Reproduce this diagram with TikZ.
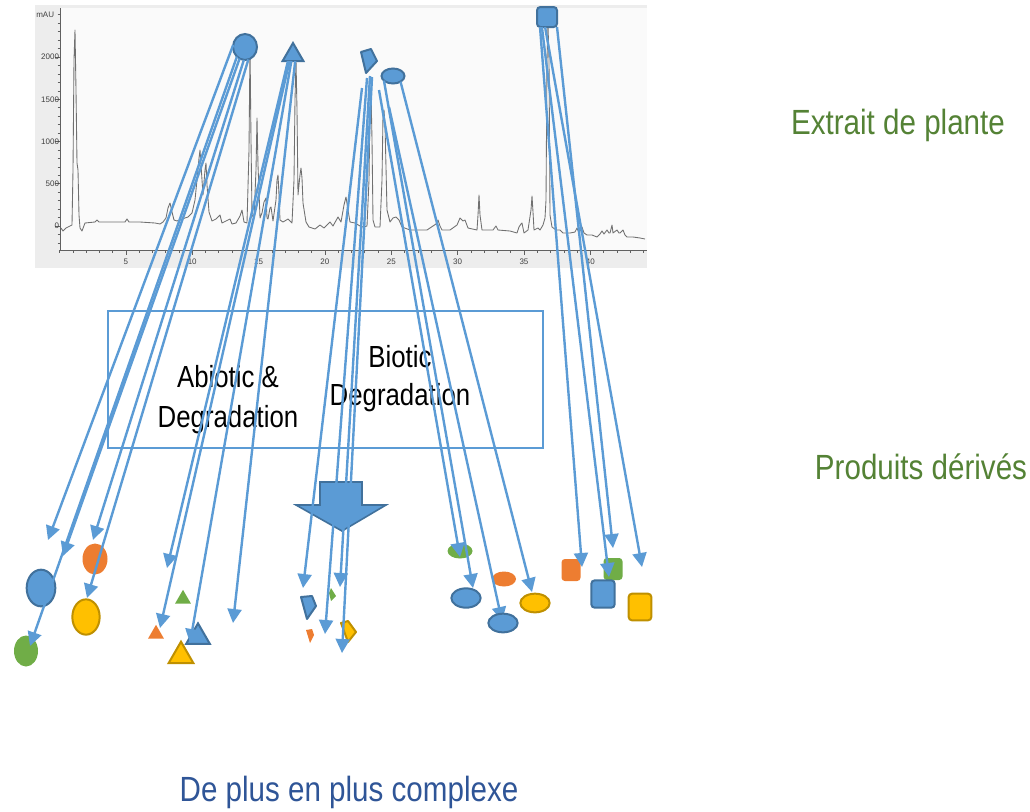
\documentclass[tikz,border=0pt]{standalone}
\usepackage{fontspec}
\setmainfont{Liberation Sans}
\usetikzlibrary{arrows.meta,shapes.geometric}
\definecolor{bl}{HTML}{5B9BD5}
\definecolor{bld}{HTML}{41719C}
\definecolor{og}{HTML}{ED7D31}
\definecolor{gn}{HTML}{70AD47}
\definecolor{yl}{HTML}{FFC000}
\definecolor{yld}{HTML}{BF9000}
\definecolor{txtg}{HTML}{548235}
\definecolor{txtb}{HTML}{2F5597}
\definecolor{axg}{HTML}{606060}
\definecolor{trg}{HTML}{707070}
\begin{document}
\begin{tikzpicture}[x=0.75pt,y=-0.75pt,
  arr/.style={draw=bl, line width=1.8pt, -{Triangle[length=10.5pt,width=10.5pt]}},
  bshape/.style={fill=bl, draw=bld, line width=1.5pt, inner sep=0pt, outer sep=0pt},
  yshape/.style={fill=yl, draw=yld, line width=1.5pt, inner sep=0pt, outer sep=0pt},
  oshape/.style={fill=og, inner sep=0pt, outer sep=0pt},
  gshape/.style={fill=gn, inner sep=0pt, outer sep=0pt},
  tri/.style={regular polygon, regular polygon sides=3, minimum size=#1},
  sq/.style={rectangle, rounded corners=2.5pt},
  bigtxt/.style={font=\fontsize{26.25}{30}\selectfont, inner sep=0pt, anchor=base},
  boxtxt/.style={font=\fontsize{22.9}{27}\selectfont, inner sep=0pt, anchor=base, text=black},
  axlab/.style={font=\fontsize{6}{7}\selectfont, text=black!75, inner sep=0.5pt},
  trace/.style={draw=trg, line width=0.65pt, line join=round}
]
\useasboundingbox (0,0) rectangle (1030,811);

% ---------- chromatogram ----------
\fill[black!7] (35,5) rectangle (647,268);
\fill[white!98!black] (60,8) rectangle (647,250);
\draw[axg, line width=0.6pt] (60,8) -- (60,250) -- (647,250);
\foreach \v in {-200,-100,...,2500}
  \draw[axg, line width=0.4pt] (57.5,{226-0.0845*\v}) -- (60,{226-0.0845*\v});
\foreach \v in {0,500,...,2000}
  \draw[axg, line width=0.5pt] (55,{226-0.0845*\v}) -- (60,{226-0.0845*\v})
    node[axlab, anchor=east] (yl\v) {\v};
\node[axlab, anchor=east] (mau) at (55,15) {mAU};
\foreach \t in {0,...,44}
  \draw[axg, line width=0.4pt] ({59.5+13.27*\t},250) -- ({59.5+13.27*\t},252.5);
\foreach \t in {5,10,...,40}
  \draw[axg, line width=0.5pt] ({59.5+13.27*\t},250) -- ({59.5+13.27*\t},255)
    node[axlab, anchor=north] (xl\t) at ({59.5+13.27*\t},258) {\t};
\draw[trace] (61,228) -- (63,231) -- (66,228) -- (70,226) -- (72,225) -- (73,170) -- (74,60) -- (75,30) -- (76,90) -- (77,163) -- (78,170) -- (79,215) -- (80,228) -- (82,231) -- (85,223) -- (95,222) -- (97,220) -- (99,222) -- (110,222) -- (125,222) -- (127,219) -- (129,222) -- (140,222) -- (155,223) -- (160,224) -- (163,222) -- (166,218) -- (168,208) -- (170,203) -- (172,212) -- (174,220) -- (177,221) -- (182,219) -- (188,217) -- (192,213) -- (195,200) -- (197,180) -- (199,158) -- (200,150) -- (201,165) -- (203,195) -- (205,170) -- (206,163) -- (207,185) -- (209,212) -- (212,221) -- (216,219) -- (220,215) -- (222,223) -- (226,221) -- (230,219) -- (232,224) -- (236,223) -- (240,216) -- (242,210) -- (244,222) -- (247,223) -- (249,150) -- (250,45) -- (251,140) -- (252,215) -- (254,218) -- (256,170) -- (257,118) -- (258,165) -- (260,218) -- (262,213) -- (264,202) -- (266,198) -- (267,218) -- (268,219) -- (270,208) -- (271,207) -- (273,221) -- (276,200) -- (277,180) -- (278,175) -- (279,195) -- (280,220) -- (283,222) -- (288,219) -- (292,223) -- (294,180) -- (295,100) -- (296,60) -- (297,110) -- (298,195) -- (300,175) -- (301,168) -- (302,178) -- (303,203) -- (306,222) -- (309,227) -- (315,229) -- (320,225) -- (324,228) -- (330,222) -- (333,226) -- (338,217) -- (341,222) -- (344,205) -- (346,197) -- (348,210) -- (350,222) -- (355,223) -- (360,226) -- (363,227) -- (367,226) -- (369,180) -- (370,110) -- (371,90) -- (372,140) -- (373,220) -- (375,227) -- (380,227) -- (382,180) -- (383,115) -- (384,110) -- (385,125) -- (387,210) -- (390,222) -- (393,218) -- (396,217) -- (399,220) -- (402,227) -- (410,230) -- (420,230) -- (427,230) -- (436,224) -- (438,220) -- (440,226) -- (442,230) -- (450,230) -- (457,225) -- (460,218) -- (463,221) -- (465,220) -- (468,228) -- (477,230) -- (478,215) -- (479,195) -- (480,215) -- (482,230) -- (493,230) -- (496,226) -- (498,230) -- (510,231) -- (517,233) -- (519,227) -- (521,224) -- (522,223) -- (524,233) -- (528,230) -- (531,210) -- (532,196) -- (533,212) -- (534,230) -- (538,228) -- (540,230) -- (543,225) -- (545,218) -- (546,200) -- (547,60) -- (548,25) -- (549,60) -- (550,215) -- (552,227) -- (556,230) -- (560,230) -- (563,233) -- (570,233) -- (575,232) -- (577,228) -- (579,233) -- (582,227) -- (584,233) -- (587,235) -- (592,235) -- (597,237) -- (600,234) -- (602,231) -- (604,234) -- (607,230) -- (609,233) -- (610,233) -- (612,225) -- (613,233) -- (617,230) -- (619,233) -- (620,233) -- (623,230) -- (625,235) -- (627,237) -- (633,237) -- (640,238) -- (645,239);

% ---------- box and labels ----------
\node[draw=bl, line width=1.5pt, minimum width=326.25pt, minimum height=102.75pt, inner sep=0pt] (box) at (325.5,379.5) {};
\node[boxtxt] (abio1) at (228,387) {\scalebox{0.845}[1]{Abiotic \&}};
\node[boxtxt] (abio2) at (228,427) {\scalebox{0.845}[1]{Degradation}};
\node[boxtxt] (bio1) at (400,367) {\scalebox{0.845}[1]{Biotic}};
\node[boxtxt] (bio2) at (400,405) {\scalebox{0.845}[1]{Degradation}};
\node[bigtxt, text=txtg] (extr) at (898,134) {\scalebox{0.845}[1]{Extrait de plante}};
\node[bigtxt, text=txtg] (prod) at (921,479) {\scalebox{0.845}[1]{Produits dérivés}};
\node[bigtxt, text=txtb] (compl) at (349,801) {\scalebox{0.845}[1]{De plus en plus complexe}};

% ---------- big down arrow ----------
\filldraw[fill=bl, draw=bld, line width=1.2pt, line join=miter] (320,482) -- (362,482) -- (362,505) -- (386,505) -- (342,531) -- (296,505) -- (320,505) -- cycle;

% ---------- source shapes ----------
\node[bshape, ellipse, minimum width=18pt, minimum height=19.5pt] (C1) at (245,47) {};
\node[bshape, tri=18pt] (T1) at (293,55) {};
\filldraw[fill=bl, draw=bld, line width=1.5pt, line join=round] (361,52) -- (371,49) -- (377,61) -- (366,73) -- cycle;
\node[bshape, ellipse, minimum width=17.25pt, minimum height=11.25pt] (E1) at (393,76) {};
\node[bshape, sq, minimum width=15pt, minimum height=15pt] (S1) at (547,17) {};

% ---------- product shapes ----------
\node[bshape, ellipse, minimum width=21.5pt, minimum height=27.5pt] (pc1) at (41,588) {};
\node[gshape, ellipse, minimum width=18pt, minimum height=23.25pt] (pc2) at (26,651) {};
\node[oshape, ellipse, minimum width=18.75pt, minimum height=23.25pt] (pc3) at (95,559) {};
\node[yshape, ellipse, minimum width=20.5pt, minimum height=26.5pt] (pc4) at (86,617) {};
\node[gshape, tri=13.8pt] (pt1) at (183,599) {};
\node[oshape, tri=13.8pt] (pt2) at (156,634) {};
\node[bshape, tri=20.5pt] (pt3) at (198,637) {};
\node[yshape, tri=21.5pt] (pt4) at (181,656) {};
\filldraw[fill=bl, draw=bld, line width=1.5pt, line join=round] (301,597) -- (312,596) -- (316,606) -- (307,619) -- cycle;
\fill[gn] (331,588) -- (336,596) -- (331,601) -- (329,593) -- cycle;
\fill[og] (306,630) -- (312,629) -- (314,635) -- (310,643) -- cycle;
\filldraw[fill=yl, draw=yld, line width=1.5pt, line join=round] (341,623) -- (348,621) -- (356,632) -- (348,642) -- cycle;
\node[gshape, ellipse, minimum width=18.75pt, minimum height=11.25pt] (pe1) at (460,551) {};
\node[oshape, ellipse, minimum width=18pt, minimum height=11.25pt] (pe2) at (504,579) {};
\node[bshape, ellipse, minimum width=22pt, minimum height=14.5pt] (pe3) at (466,598) {};
\node[yshape, ellipse, minimum width=22pt, minimum height=14pt] (pe5) at (535,603) {};
\node[oshape, sq, minimum width=14.25pt, minimum height=16.5pt] (ps1) at (571,570) {};
\node[gshape, sq, minimum width=14.25pt, minimum height=16.5pt] (ps2) at (613,569) {};
\node[bshape, sq, minimum width=17.5pt, minimum height=20.5pt] (ps3) at (603,594) {};
\node[yshape, sq, minimum width=17pt, minimum height=20pt] (ps4) at (640,607) {};

% ---------- arrow ends ----------
\coordinate (a1) at (48,540);
\coordinate (a2) at (30,646);
\coordinate (a3) at (63,556);
\coordinate (a4) at (93,540);
\coordinate (a5) at (87,598);
\coordinate (b1) at (167,568);
\coordinate (b2) at (160,628);
\coordinate (b3) at (190,643);
\coordinate (b4) at (233,623);
\coordinate (m1s) at (362,88);
\coordinate (m2s) at (367,78);
\coordinate (m3s) at (370,76);
\coordinate (m4s) at (372,77);
\coordinate (m1) at (303,588);
\coordinate (m2) at (325,634);
\coordinate (m3) at (340,587);
\coordinate (m4) at (342,653);
\coordinate (r1s) at (379,90);
\coordinate (r3s) at (389,107);
\coordinate (r1) at (460,557);
\coordinate (r2) at (473,588);
\coordinate (r3) at (502,621);
\coordinate (r4) at (532,592);
\coordinate (s1) at (582,567);
\coordinate (s2) at (609,577);
\coordinate (s3) at (613,548);
\coordinate (s4) at (642,567);

% ---------- arrows ----------
\draw[arr] (C1.170) -- (a1);
\draw[arr] (C1.230) -- (a2);
\draw[arr] (C1.245) -- (a3);
\draw[arr] (C1.265) -- (a4);
\draw[arr] (C1.285) -- (a5);
\draw[arr] (T1.230) -- (b1);
\draw[arr] (T1.240) -- (b2);
\draw[arr] (T1.255) -- (b3);
\draw[arr] (T1.290) -- (b4);
\draw[arr] (m1s) -- (m1);
\draw[arr] (m2s) -- (m2);
\draw[arr] (m3s) -- (m3);
\draw[arr] (m4s) -- (m4);
\draw[arr] (r1s) -- (r1);
\draw[arr] (E1.207) -- (r2);
\draw[arr] (r3s) -- (r3);
\draw[arr] (E1.323) -- (r4);
\draw[arr] (S1.235) -- (s1);
\draw[arr] (S1.243) -- (s2);
\draw[arr] (S1.315) -- (s3);
\draw[arr] (S1.259) -- (s4);

% ellipse drawn over its arrow
\node[bshape, ellipse, minimum width=22pt, minimum height=14pt] (pe4) at (503,623) {};
\end{tikzpicture}
\end{document}
